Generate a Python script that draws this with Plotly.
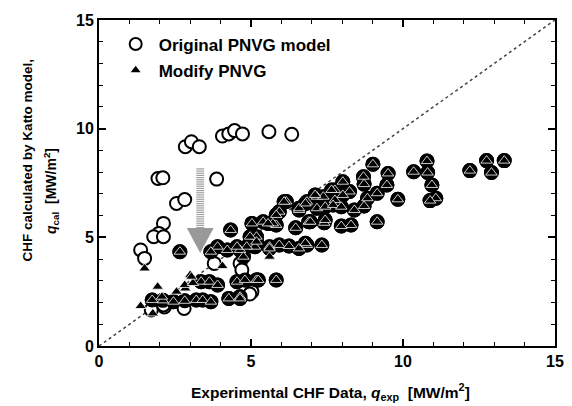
import numpy as np
import plotly.graph_objects as go

# points shared by both models (circle + triangle coincide)
both_x = [10.79, 10.81, 10.35, 10.95, 11.08, 10.89, 9.83, 9.01, 9.51, 9.47, 8.70, 8.72, 9.15, 8.83, 8.72,
          8.40, 8.02, 8.24, 8.02, 7.76, 7.76, 9.15, 8.29, 7.97, 7.33, 6.84, 6.58, 7.41, 6.90, 6.47,
          5.83, 5.83, 6.16, 6.58, 6.84, 7.17, 7.38, 7.17, 7.44, 7.70, 7.97, 7.44,
          12.20, 12.75, 12.91, 13.33,
          5.03, 5.40, 5.72, 5.93, 6.58, 7.11, 7.65, 6.95, 5.18, 4.64, 5.13, 5.61, 5.93, 6.25,
          5.18, 4.64, 5.56, 6.09, 5.83, 6.79,
          4.97, 5.18, 4.86, 4.54, 4.22, 3.90, 3.68, 4.75, 5.61, 6.79, 4.33, 2.66,
          3.36, 3.63, 3.90, 4.54, 4.80, 5.24,
          1.75, 2.10, 2.45, 2.82, 3.20, 3.41, 3.68, 4.27, 4.64]
both_y = [8.51, 7.98, 8.02, 7.41, 6.80, 6.69, 6.75, 8.36, 7.94, 7.41, 7.79, 7.45, 7.03, 6.80, 6.44,
          6.26, 7.56, 7.11, 6.95, 7.18, 6.72, 5.72, 5.57, 5.52, 4.65, 4.65, 4.49, 5.67, 5.72, 5.44,
          3.04, 5.57, 6.65, 6.26, 6.64, 6.87, 6.87, 6.34, 6.41, 6.49, 6.41, 5.80,
          8.07, 8.53, 7.98, 8.53,
          5.64, 5.72, 5.64, 6.18, 6.34, 6.95, 7.18, 5.72, 5.03, 4.42, 4.57, 4.57, 4.65, 4.60,
          3.04, 2.27, 5.64, 6.64, 6.03, 6.56,
          5.03, 4.80, 4.57, 4.57, 4.42, 4.57, 4.34, 4.11, 4.49, 4.73, 5.34, 4.34,
          2.96, 2.96, 2.81, 2.96, 3.04, 3.04,
          2.12, 2.10, 2.04, 2.08, 2.12, 2.12, 2.04, 2.19, 2.19]

# original PNVG model only (open circles)
orig_x = [2.84, 3.04, 3.30, 4.06, 4.27, 4.46, 4.72, 5.59, 6.34, 1.94, 2.10, 3.87, 2.55, 2.82,
          2.12, 1.97, 1.80, 2.12, 1.37, 1.50,
          2.80, 2.15, 1.72, 3.79, 4.64, 4.70, 5.03, 4.96, 2.12]
orig_y = [9.17, 9.40, 9.17, 9.66, 9.76, 9.91, 9.76, 9.86, 9.74, 7.71, 7.74, 7.68, 6.56, 6.74,
          5.64, 5.18, 5.03, 5.03, 4.42, 4.03,
          1.73, 1.80, 1.66, 3.80, 3.80, 3.50, 2.50, 2.39, 1.89]

# modified PNVG only (triangles)
mod_x = [1.50, 1.37, 1.93, 2.55, 3.00, 2.84, 4.06, 1.77, 2.07, 2.82, 3.09, 5.61, 3.04]
mod_y = [3.57, 1.84, 2.73, 2.50, 3.27, 2.65, 3.68, 1.50, 2.27, 2.81, 2.90, 4.11, 3.19]

x_ticks = [0, 5, 10, 15]
y_ticks = [0, 5, 10, 15]

FONT = "Liberation Sans, Arial, sans-serif"

fig = go.Figure()
# Original model: open circles
fig.add_trace(go.Scatter(
    x=both_x + orig_x, y=both_y + orig_y, mode="markers", name="Original PNVG model",
    legendgroup="a",
    marker=dict(symbol="circle", size=13, color="white", line=dict(color="black", width=2)),
))
# where both coincide, the overlapped marks render as a dark disc
fig.add_trace(go.Scatter(
    x=both_x, y=both_y, mode="markers", showlegend=False, hoverinfo="skip", legendgroup="a",
    marker=dict(symbol="circle", size=13, color="black", line=dict(color="black", width=2)),
))
# Modified model: triangles
fig.add_trace(go.Scatter(
    x=both_x + mod_x, y=both_y + mod_y, mode="markers", name="Modify PNVG", legendgroup="b",
    marker=dict(symbol="triangle-up", size=10, color="black", line=dict(color="white", width=0.8)),
))

shapes = []
# 1:1 dotted line
shapes.append(dict(type="line", x0=0, y0=0, x1=15, y1=15, xref="x", yref="y",
                   line=dict(color="#444", width=1.5, dash="dot"), layer="below"))
# hatched arrow shaft
ax, hw = 3.33, 0.13
for yy in np.arange(5.45, 8.25, 0.1):
    shapes.append(dict(type="line", x0=ax - hw, x1=ax + hw, y0=yy, y1=yy, xref="x", yref="y",
                       line=dict(color="#a0a0a0", width=1.2), layer="below"))
# arrow head
shapes.append(dict(type="path", xref="x", yref="y",
                   path=f"M {ax-0.44},5.43 L {ax+0.44},5.43 L {ax},4.28 Z",
                   fillcolor="#999999", line=dict(color="#999999", width=0), layer="below"))

W, H = 572, 406
ml, mr, mt, mb = 99, 8, 20, 60
pw, ph = W - ml - mr, H - mt - mb


def px(xp):
    return (xp - ml) / pw


def py(yp):
    return (H - mb - yp) / ph


annotations = [
    dict(text="<b>Experimental CHF Data, <i>q</i><sub>exp</sub>  [MW/m<sup>2</sup>]</b>",
         x=px(335), y=py(392), xref="paper", yref="paper", showarrow=False,
         xanchor="center", yanchor="middle",
         font=dict(family=FONT, size=15.5, color="black")),
    dict(text="<b>CHF calculated by Katto model,</b>", x=px(26), y=py(160), textangle=-90,
         xref="paper", yref="paper", xanchor="center", yanchor="middle",
         showarrow=False, font=dict(family=FONT, size=13.5, color="black")),
    dict(text="<b><i>q</i><sub>cal</sub>  [MW/m<sup>2</sup>]</b>", x=px(50), y=py(191), textangle=-90,
         xref="paper", yref="paper", xanchor="center", yanchor="middle",
         showarrow=False, font=dict(family=FONT, size=14, color="black")),
]

axis_common = dict(
    showgrid=False, zeroline=False, showline=True, linecolor="black", linewidth=2,
    mirror="ticks", ticks="inside", ticklen=7, tickwidth=1.5, tickcolor="black",
    tickfont=dict(family=FONT, size=16, color="black", weight="bold"),
    minor=dict(dtick=1, ticks="inside", ticklen=4, tickwidth=1.2, tickcolor="black"),
)
fig.update_xaxes(range=[0, 15], tickvals=x_ticks, **axis_common)
fig.update_yaxes(range=[0, 15], tickvals=y_ticks, **axis_common)

fig.update_layout(
    width=W, height=H, margin=dict(l=ml, r=mr, t=mt, b=mb),
    paper_bgcolor="white", plot_bgcolor="white",
    shapes=shapes, annotations=annotations,
    showlegend=True,
    legend=dict(x=0.03, y=0.98, xanchor="left", yanchor="top", bgcolor="rgba(0,0,0,0)",
                font=dict(family=FONT, size=17, color="black", weight="bold"),
                traceorder="grouped", tracegroupgap=1, itemwidth=36, itemsizing="constant"),
    font=dict(family=FONT),
)
fig.write_html("out.html")
